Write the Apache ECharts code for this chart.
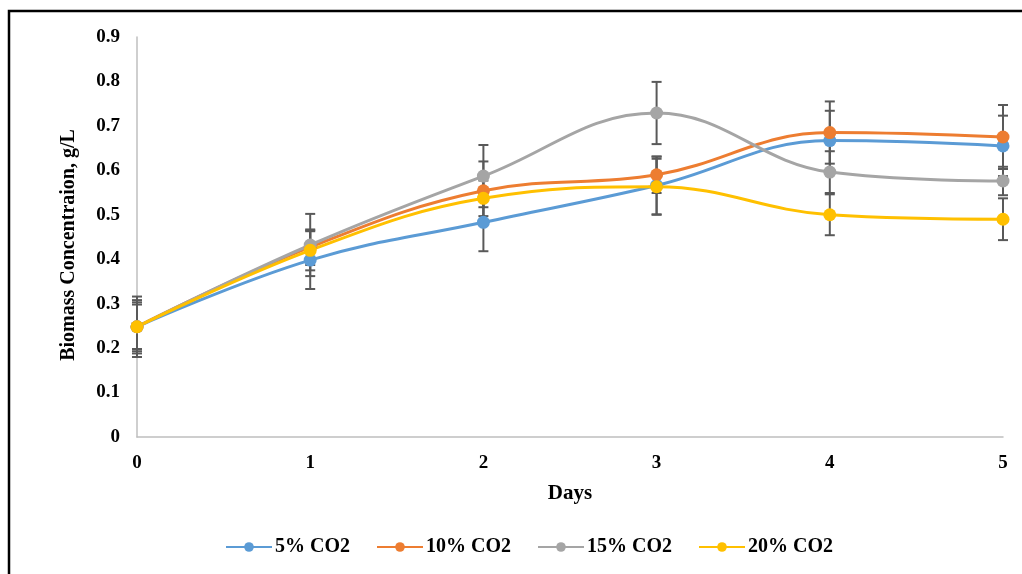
<!DOCTYPE html>
<html>
<head>
<meta charset="utf-8">
<script src="https://cdn.jsdelivr.net/npm/echarts@6/dist/echarts.min.js"></script>
<style>html,body{margin:0;padding:0;background:#fff;}#c{width:1022px;height:574px;}</style>
</head>
<body>
<div id="c"></div>
<script>
var days = ['0', '1', '2', '3', '4', '5'];
var seriesNames = ['5% CO2', '10% CO2', '15% CO2', '20% CO2'];
var co2_5 = [0.248, 0.398, 0.483, 0.566, 0.667, 0.655];
var co2_10 = [0.248, 0.427, 0.554, 0.590, 0.685, 0.675];
var co2_15 = [0.248, 0.432, 0.587, 0.729, 0.596, 0.576];
var co2_20 = [0.248, 0.420, 0.537, 0.563, 0.500, 0.490];
var err_5 = [0.060, 0.065, 0.065, 0.065, 0.067, 0.068];
var err_10 = [0.055, 0.040, 0.066, 0.041, 0.070, 0.072];
var err_15 = [0.068, 0.070, 0.070, 0.070, 0.047, 0.032];
var err_20 = [0.050, 0.045, 0.040, 0.063, 0.046, 0.047];
var colors = ['#5B9BD5', '#ED7D31', '#A5A5A5', '#FFC000'];

var values = [co2_5, co2_10, co2_15, co2_20];
var errs = [err_5, err_10, err_15, err_20];
var font = 'Liberation Serif';

var chart = echarts.init(document.getElementById('c'));
var series = [];
values.forEach(function (vals, si) {
  var errData = vals.map(function (v, i) { return [i, v - errs[si][i], v + errs[si][i]]; });
  series.push({
    type: 'custom',
    name: seriesNames[si] + ' err',
    z: 1,
    silent: true,
    data: errData,
    renderItem: function (params, api) {
      var x = api.value(0);
      var lo = api.coord([x, api.value(1)]);
      var hi = api.coord([x, api.value(2)]);
      var hw = 5;
      var st = { stroke: '#595959', lineWidth: 2 };
      return {
        type: 'group',
        children: [
          { type: 'line', shape: { x1: lo[0], y1: lo[1], x2: hi[0], y2: hi[1] }, style: st },
          { type: 'line', shape: { x1: lo[0] - hw, y1: lo[1], x2: lo[0] + hw, y2: lo[1] }, style: st },
          { type: 'line', shape: { x1: hi[0] - hw, y1: hi[1], x2: hi[0] + hw, y2: hi[1] }, style: st }
        ]
      };
    }
  });
});
values.forEach(function (vals, si) {
  series.push({
    type: 'line',
    name: seriesNames[si],
    data: vals,
    smooth: 0.4,
    z: 3,
    symbol: 'circle',
    symbolSize: 13,
    lineStyle: { width: 3, color: colors[si] },
    itemStyle: { color: colors[si] }
  });
});

chart.setOption({
  animation: false,
  color: colors,
  grid: { left: 137, right: 19, top: 37, bottom: 137 },
  legend: {
    data: seriesNames,
    bottom: 12,
    left: 220,
    itemWidth: 46,
    itemHeight: 12,
    itemGap: 26,
    textStyle: { fontFamily: font, fontWeight: 'bold', fontSize: 20, color: '#000', padding: [0, 0, 0, -2] }
  },
  xAxis: {
    type: 'category',
    data: days,
    boundaryGap: false,
    name: 'Days',
    nameLocation: 'middle',
    nameGap: 46,
    nameTextStyle: { fontFamily: font, fontWeight: 'bold', fontSize: 21, color: '#000' },
    axisLine: { lineStyle: { color: '#BFBFBF', width: 1.5 } },
    axisTick: { show: false },
    axisLabel: { fontFamily: font, fontWeight: 'bold', fontSize: 19, color: '#000', margin: 17 },
    splitLine: { show: false }
  },
  yAxis: {
    type: 'value',
    min: 0,
    max: 0.9,
    interval: 0.1,
    name: 'Biomass Concentraion, g/L',
    nameLocation: 'middle',
    nameGap: 58,
    nameTextStyle: { fontFamily: font, fontWeight: 'bold', fontSize: 20, color: '#000', padding: [0, 16, 0, 0] },
    axisLine: { show: true, lineStyle: { color: '#BFBFBF', width: 1.5 } },
    axisTick: { show: false },
    splitLine: { show: false },
    axisLabel: {
      fontFamily: font, fontWeight: 'bold', fontSize: 19, color: '#000', margin: 17,
      formatter: function (v) { return v === 0 ? '0' : v.toFixed(1); }
    }
  },
  graphic: [{
    type: 'polyline',
    shape: { points: [[9, 574], [9, 11], [1022, 11]] },
    style: { stroke: '#000', lineWidth: 2.5, fill: null },
    silent: true
  }],
  series: series
});
</script>
</body>
</html>
